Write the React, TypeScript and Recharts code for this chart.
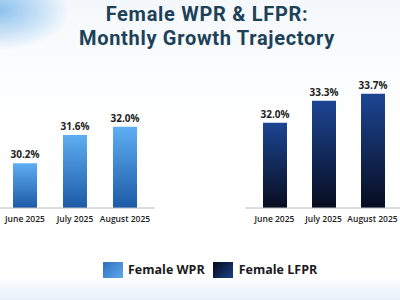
import { BarChart, Bar, XAxis, YAxis, LabelList } from "recharts";

const months = ["June 2025", "July 2025", "August 2025"];
const wprValues = [30.2, 31.6, 32.0];
const lfprValues = [32.0, 33.3, 33.7];

const wprData = months.map((month, i) => ({ month, value: wprValues[i] }));
const lfprData = months.map((month, i) => ({ month, value: lfprValues[i] }));

const FONT = "'Open Sans', 'Noto Sans', sans-serif";
const fmt = (v: number) => `${Number(v).toFixed(1)}%`;

function MiniBars({
  data,
  domain,
  gradId,
  top,
  bottom,
  padding,
}: {
  data: { month: string; value: number }[];
  domain: [number, number];
  gradId: string;
  top: string;
  bottom: string;
  padding: { left: number; right: number };
}) {
  return (
    <BarChart width={157} height={158} data={data} margin={{ top: 0, right: 2, left: 0, bottom: 0 }}>
      <defs>
        <linearGradient id={gradId} x1="0" y1="0" x2="0" y2="1">
          <stop offset="0%" stopColor={top} />
          <stop offset="100%" stopColor={bottom} />
        </linearGradient>
      </defs>
      <XAxis
        dataKey="month"
        interval={0}
        height={20}
        padding={padding}
        tickLine={false}
        axisLine={{ stroke: "#b8bcc4" }}
        tick={{ fontSize: 8.5, fill: "#222", fontWeight: 600, fontFamily: FONT }}
      />
      <YAxis hide type="number" domain={domain} allowDataOverflow />
      <Bar dataKey="value" fill={`url(#${gradId})`} barSize={24} isAnimationActive={false}>
        <LabelList
          dataKey="value"
          position="top"
          offset={5}
          formatter={fmt}
          style={{ fontSize: 10, fontWeight: 700, fill: "#222", fontFamily: FONT }}
        />
      </Bar>
    </BarChart>
  );
}

export default function App() {
  return (
    <div
      style={{
        position: "fixed",
        left: 0,
        top: 0,
        width: 400,
        height: 300,
        overflow: "hidden",
        fontFamily: FONT,
        background:
          "radial-gradient(ellipse 70px 40px at 0px 10px, #8cc2ee 0%, rgba(140,194,238,0.4) 60%, rgba(255,255,255,0) 100%), linear-gradient(180deg, #f4f8fc 0%, #ffffff 40%, #ffffff 92%, #e6f0fa 100%)",
      }}
    >
      <div
        style={{
          position: "absolute",
          top: 2,
          left: 7,
          width: 400,
          textAlign: "center",
          fontFamily: "Roboto, sans-serif",
          fontSize: 20,
          fontWeight: 700,
          letterSpacing: 0.7,
          lineHeight: "24px",
          color: "#1d4258",
        }}
      >
        <div>Female WPR &amp; LFPR:</div>
        <div>Monthly Growth Trajectory</div>
      </div>

      <div style={{ position: "absolute", left: 0, top: 70 }}>
        <MiniBars
          data={wprData}
          domain={[28, 34.8]}
          gradId="wprGrad"
          top="#5eaef2"
          bottom="#1d5aa6"
          padding={{ left: 0, right: 5 }}
        />
      </div>
      <div style={{ position: "absolute", left: 245, top: 70 }}>
        <MiniBars
          data={lfprData}
          domain={[27, 35.1]}
          gradId="lfprGrad"
          top="#1c4594"
          bottom="#080d1f"
          padding={{ left: 5, right: 3 }}
        />
      </div>

      <div
        style={{
          position: "absolute",
          top: 261,
          left: 103,
          display: "flex",
          alignItems: "center",
          fontSize: 12.5,
          fontWeight: 700,
          color: "#1a1a22",
        }}
      >
        <span style={{ width: 20, height: 16, background: "linear-gradient(135deg, #2f6fbf, #5fa8ec)", marginRight: 5 }} />
        <span style={{ marginRight: 8 }}>Female WPR</span>
        <span style={{ width: 20, height: 16, background: "linear-gradient(135deg, #050a1c, #1c3f86)", marginRight: 6 }} />
        <span>Female LFPR</span>
      </div>
    </div>
  );
}
